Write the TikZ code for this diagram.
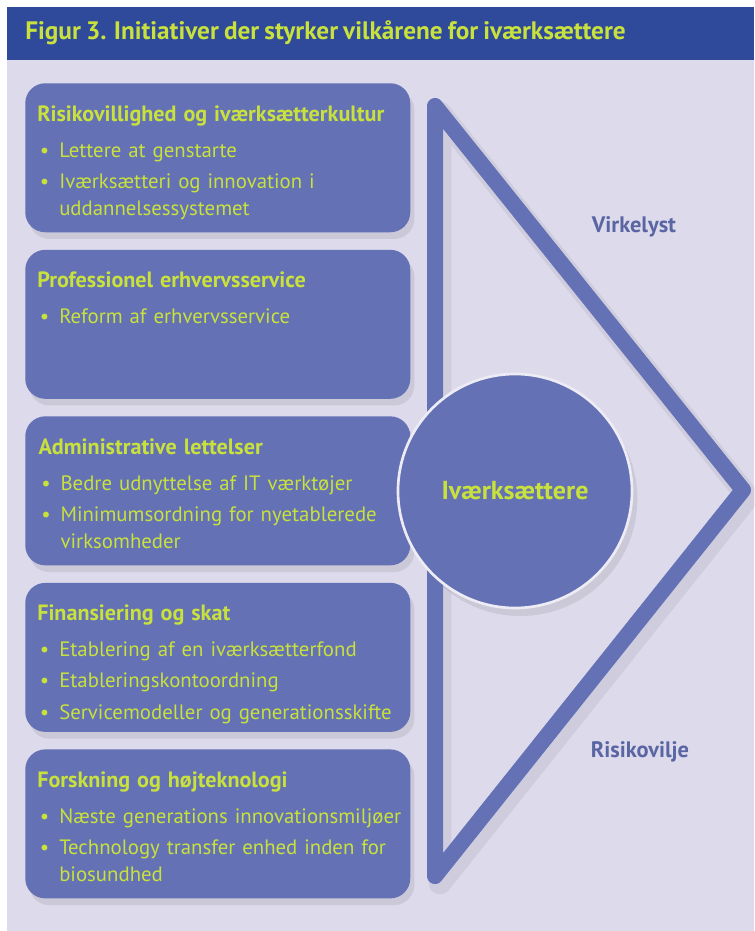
\documentclass[tikz,border=0pt]{standalone}
\usepackage{fontspec}
\setmainfont{PT Sans}[WordSpace=0.8]
\usetikzlibrary{positioning,shadows}
\definecolor{titleblue}{HTML}{2F4A9B}
\definecolor{lavender}{HTML}{DCDAEB}
\definecolor{boxblue}{HTML}{6471B5}
\definecolor{lime}{HTML}{C8E13C}
\newcommand\hd[1]{{\bfseries\fontsize{16.6}{20.25}\selectfont #1\par}\vspace{3.5pt}}
\newcommand\itm[1]{\vspace{3.5pt}\hangindent=16.5pt\hangafter=1\noindent\makebox[16.5pt][l]{\hspace{2pt}\textbullet}#1\par}
\begin{document}
\begin{tikzpicture}[x=0.75pt, y=-0.75pt, node distance=12.75pt,
    initiative/.style = {fill=boxblue, rounded corners=15pt, minimum width=288.75pt, minimum height=111.75pt, inner sep=0pt,
        drop shadow={opacity=0.18, shadow xshift=3pt, shadow yshift=-5pt}},
    body/.style = {text=lime, text width=300pt, align=left, inner sep=0pt, font=\fontsize{15.6}{20}\selectfont},
    hub/.style = {circle, fill=boxblue, draw=lavender!50!white, line width=2pt, minimum size=175.5pt, inner sep=0pt,
        text=lime, font=\bfseries\fontsize{19.5}{24}\selectfont, drop shadow={opacity=0.18, shadow xshift=4pt, shadow yshift=-6pt}},
    side/.style = {text=boxblue!90!black, font=\bfseries\fontsize{16.8}{19}\selectfont}]
    \useasboundingbox (0,0) rectangle (754,931);
    \fill[white] (0,0) rectangle (754,931);
    \fill[titleblue] (7,7) rectangle (754,60);
    \fill[lavender] (7,60) rectangle (754,931);
    \node[anchor=west, text=lime, font=\bfseries\fontsize{18.95}{22}\selectfont, inner sep=0pt] (title) at (25,33)
        {Figur 3. Initiativer der styrker vilkårene for iværksættere};

    % initiativer
    \node[initiative, anchor=north west] (risiko) at (25,83) {};
    \node[initiative, below=of risiko] (service) {};
    \node[initiative, below=of service] (admin) {};
    \node[initiative, below=of admin] (finans) {};
    \node[initiative, below=of finans] (forsk) {};

    \node[body, below right=16.5pt and 9pt of risiko.north west] (risikotxt)
        {\hd{Risikovillighed og iværksætterkultur}\itm{Lettere at genstarte}\itm{Iværksætteri og innovation i\newline uddannelsessystemet}};
    \node[body, below right=16.5pt and 9pt of service.north west] (servicetxt)
        {\hd{Professionel erhvervsservice}\itm{Reform af erhvervsservice}};
    \node[body, below right=16.5pt and 10pt of admin.north west] (admintxt)
        {\hd{Administrative lettelser}\itm{Bedre udnyttelse af IT værktøjer}\itm{Minimumsordning for nyetablerede\newline virksomheder}};
    \node[body, below right=16.5pt and 9pt of finans.north west] (finanstxt)
        {\hd{Finansiering og skat}\itm{Etablering af en iværksætterfond}\itm{Etableringskontoordning}\itm{Servicemodeller og generationsskifte}};
    \node[body, below right=16.5pt and 9pt of forsk.north west] (forsktxt)
        {\hd{Forskning og højteknologi}\itm{Næste generations innovationsmiljøer}\itm{Technology transfer enhed inden for\newline biosundhed}};

    % trekant
    \coordinate (top) at (435,106);
    \coordinate (tip) at (743,490);
    \coordinate (bund) at (435,876);
    \draw[black, opacity=0.06, line width=17pt, line join=round, line cap=round] ([shift={(5,7)}]top) -- ([shift={(5,7)}]tip) -- ([shift={(5,7)}]bund) -- cycle;
    \draw[boxblue, line width=12pt, line join=round, line cap=round] (top) -- (tip) -- (bund) -- cycle;

    \node[side] (virkelyst) at (634,227) {Virkelyst};
    \node[side] (risikovilje) at (640,752) {Risikovilje};
    \node[hub] (hub) at (515,491) {Iværksættere};
\end{tikzpicture}
\end{document}
